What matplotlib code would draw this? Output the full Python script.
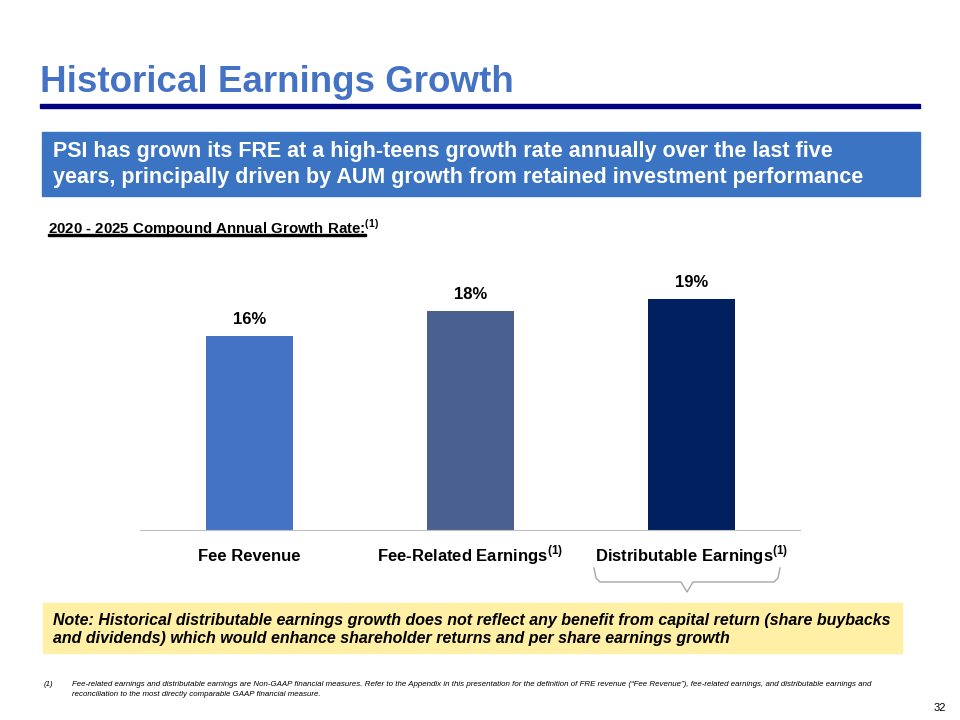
import matplotlib
matplotlib.use("Agg")
import matplotlib.pyplot as plt
from matplotlib.patches import Rectangle

plt.rcParams["font.family"] = ["Liberation Sans", "DejaVu Sans"]
plt.rcParams["mathtext.fontset"] = "custom"
plt.rcParams["mathtext.bf"] = "Liberation Sans:bold"
plt.rcParams["mathtext.rm"] = "Liberation Sans"

categories = ["Fee Revenue", "Fee-Related Earnings$^{\\bf (1)}$", "Distributable Earnings$^{\\bf (1)}$"]
cagr = [16, 18, 19]
bar_colors = ["#4472C4", "#4A6190", "#002060"]

W, H = 960, 720
fig = plt.figure(figsize=(9.6, 7.2), dpi=100)


def px(x, y):
    return x / W, 1 - y / H


def text(x, y, s, **kw):
    fig.text(*px(x, y), s, **kw)


# ── header ────────────────────────────────────────────────────────────────────
text(40, 82, "Historical Earnings Growth", fontsize=26.5, fontweight="bold",
     color="#4472C4", va="center")
fig.add_artist(Rectangle(px(40, 108), 880 / W, 4 / H, color="#000080",
                         transform=fig.transFigure))
fig.add_artist(Rectangle(px(42, 196), 878 / W, 64 / H, color="#3B74C3",
                         transform=fig.transFigure))
text(53, 151, "PSI has grown its FRE at a high-teens growth rate annually over the last five",
     fontsize=15.5, fontweight="bold", color="white", va="center")
text(53, 178, "years, principally driven by AUM growth from retained investment performance",
     fontsize=15.5, fontweight="bold", color="white", va="center")
text(48, 228, "2020 - 2025 Compound Annual Growth Rate:$^{\\bf (1)}$", fontsize=10.8,
     fontweight="bold", color="black", va="center")
fig.add_artist(Rectangle(px(48, 235.5), 318 / W, 1.5 / H, color="black",
                         transform=fig.transFigure))

# ── bars ──────────────────────────────────────────────────────────────────────
ax = fig.add_axes([140 / W, 190 / H, 660 / W, 280 / H])
x = range(len(cagr))
ax.bar(x, cagr, width=0.394, color=bar_colors)
for xi, v in zip(x, cagr):
    ax.text(xi, v + 0.75, f"{v}%", ha="center", va="bottom", fontsize=12,
            fontweight="bold")
ax.set_xlim(-0.495, 2.491)
ax.set_ylim(0, 23.05)
ax.set_yticks([])
ax.set_xticks([])
for s in ["top", "right", "left"]:
    ax.spines[s].set_visible(False)
ax.spines["bottom"].set_color("#BFBFBF")
for xi, lab in zip(x, categories):
    ax.text(xi, -2.55, lab, ha="center", va="baseline", fontsize=12,
            fontweight="bold", transform=ax.transData)

# brace under Distributable Earnings
bx = [594, 596, 600, 681, 687, 693, 774, 778, 780]
by = [568, 578, 582, 582, 592, 582, 582, 578, 568]
fig.add_artist(plt.Line2D([px(a, 0)[0] for a in bx], [px(0, b)[1] for b in by],
                          color="#A6A6A6", lw=1, transform=fig.transFigure))

# ── note ──────────────────────────────────────────────────────────────────────
fig.add_artist(Rectangle(px(43, 653), 859 / W, 50 / H, color="#FFF0A6",
                         transform=fig.transFigure))
text(53, 620, "Note: Historical distributable earnings growth does not reflect any benefit from capital return (share buybacks",
     fontsize=11.5, fontweight="bold", style="italic", va="center")
text(53, 638, "and dividends) which would enhance shareholder returns and per share earnings growth",
     fontsize=11.5, fontweight="bold", style="italic", va="center")

text(44, 684, "(1)", fontsize=5.7, style="italic", va="center")
text(72, 684, "Fee-related earnings and distributable earnings are Non-GAAP financial measures. Refer to the Appendix in this presentation for the definition of FRE revenue (\u201cFee Revenue\u201d), fee-related earnings, and distributable earnings and",
     fontsize=5.7, style="italic", va="center")
text(72, 694, "reconciliation to the most directly comparable GAAP financial measure.",
     fontsize=5.7, style="italic", va="center")
text(946, 708, "32", fontsize=8, ha="right", va="center")

fig.savefig("out.png", dpi=100)
